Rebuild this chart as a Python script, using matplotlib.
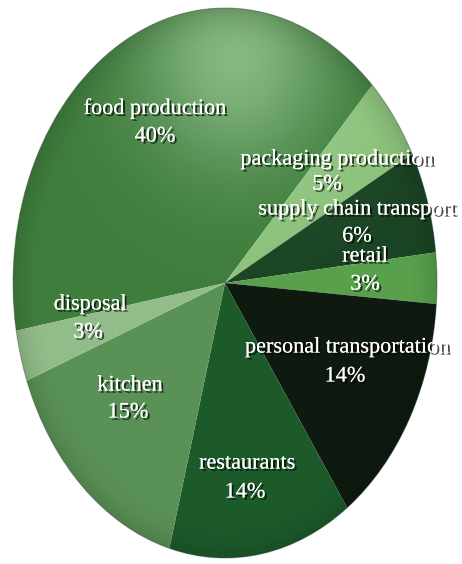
import numpy as np
import matplotlib
matplotlib.use("Agg")
import matplotlib.pyplot as plt
import matplotlib.patheffects as pe
from matplotlib.patches import Ellipse

# Share of food-system energy use by stage
categories = ["food production", "packaging production", "supply chain transport",
              "retail", "personal transportation", "restaurants", "kitchen", "disposal"]
shares = [40, 5, 6, 3, 14, 14, 15, 3]
colors = ["#3f7d3d", "#8cc27c", "#1b4424", "#58a04c", "#0e1a10",
          "#1c5a2a", "#5a9157", "#92bd8a"]

# label anchors (pixels) for name and percentage lines
name_pos = [(155, 109), (337, 160), (357, 210), (365, 257),
            (347, 348), (247, 464), (130, 386), (90, 305)]
pct_pos = [(155, 137), (327, 185), (357, 237), (365, 285),
           (345, 377), (245, 493), (128, 413), (88, 333)]

W, H = 462, 564
fig = plt.figure(figsize=(W / 100, H / 100), dpi=100)
ax = fig.add_axes([0, 0, 1, 1])

cx, cy, rx, ry = 225, 283, 212, 275
wedges, _ = ax.pie(shares, colors=colors, startangle=190, counterclock=False,
                   radius=1, center=(0, 0), wedgeprops=dict(linewidth=0))
ax.set_aspect("auto")

# soft highlight near the top and slightly darker rim, clipped to the pie outline
xs = np.linspace(-cx / rx, (W - cx) / rx, 300)
ys = np.linspace(cy / ry, -(H - cy) / ry, 360)
X, Y = np.meshgrid(xs, ys)
hl = np.exp(-(((X - 0.05) / 0.45) ** 2 + ((Y - 0.82) / 0.40) ** 2))
R = np.sqrt(X ** 2 + Y ** 2)
rim = np.clip((R - 0.85) / 0.15, 0, 1) ** 2
light = np.zeros(X.shape + (4,))
light[..., :3] = (0.80, 0.95, 0.78)
light[..., 3] = 0.50 * hl
dark = np.zeros(X.shape + (4,))
dark[..., 3] = 0.12 * rim
ext = (xs[0], xs[-1], ys[-1], ys[0])
clip = Ellipse((0, 0), 2, 2, transform=ax.transData)
for img in (light, dark):
    im = ax.imshow(img, extent=ext, aspect="auto", zorder=3, interpolation="bilinear")
    im.set_clip_path(clip)
ax.set_xlim(-cx / rx, (W - cx) / rx)
ax.set_ylim(-(H - cy) / ry, cy / ry)
ax.axis("off")

ax.add_patch(Ellipse((0, 0), 2, 2, fill=False, edgecolor="#2a3a2a",
                     linewidth=0.8, alpha=0.35, zorder=4))

shadow = [pe.withSimplePatchShadow(offset=(1.5, -1.5), shadow_rgbFace="black", alpha=0.7),
          pe.Normal()]
font = dict(family="Liberation Serif", color="white", fontsize=16, ha="center",
            va="center", zorder=5, path_effects=shadow, transform=ax.transAxes)
for name, share, (nx, ny), (px, py) in zip(categories, shares, name_pos, pct_pos):
    ax.text(nx / W, 1 - ny / H, name, **font)
    ax.text(px / W, 1 - py / H, f"{share}%", **font)

fig.savefig("out.png", dpi=100)
